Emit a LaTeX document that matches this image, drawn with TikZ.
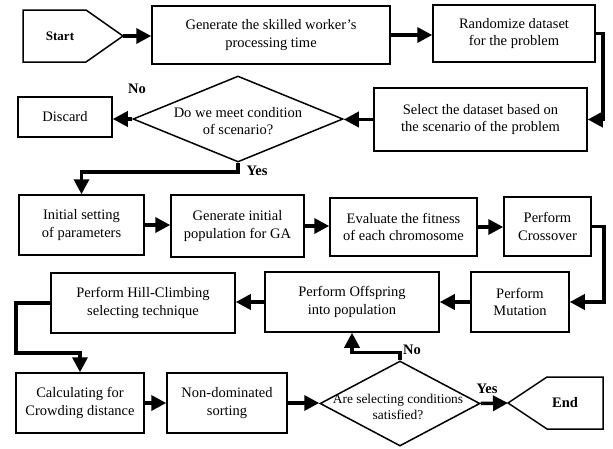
\documentclass[tikz,border=0pt]{standalone}
\usepackage{fontspec}
\setmainfont{Liberation Serif}
\usetikzlibrary{arrows.meta,shapes.geometric}
\begin{document}
\begin{tikzpicture}[x=1pt,y=-1pt,
  box/.style={draw, line width=1.5pt, inner sep=0pt, align=center, font=\fontsize{14.5}{17.5}\selectfont},
  dia/.style={draw, diamond, line width=1.5pt, inner sep=0pt},
  txt/.style={align=center, inner sep=0pt, font=\fontsize{14.5}{17.5}\selectfont},
  arr/.style={line width=3.5pt, -{Triangle[length=15pt,width=15pt]}},
  lbl/.style={inner sep=0pt, font=\fontsize{14.5}{17}\selectfont\bfseries}]
\useasboundingbox (0,0) rectangle (613,448);
% Start
\draw[line width=1.5pt] (23,10) -- (86,10) -- (123,36) -- (86,62) -- (23,62) -- cycle;
\node[lbl, font=\fontsize{13}{15}\selectfont\bfseries] (start) at (60,36) {Start};
\coordinate (starttip) at (123,36);
% Row 1
\node[box, minimum width=238pt, minimum height=58pt] (gen) at (271,35) {Generate the skilled worker's\\processing time};
\node[box, minimum width=162pt, minimum height=57pt] (rand) at (514,33.5) {Randomize dataset\\for the problem};
% Row 2
\node[box, minimum width=213pt, minimum height=63pt] (sel) at (480.5,119.5) {Select the dataset based on\\the scenario of the problem};
\node[dia, minimum width=210pt, minimum height=86pt] (dia1) at (238,119) {};
\node[txt] (dia1t) at (238,121) {Do we meet condition\\of scenario?};
\node[box, minimum width=94pt, minimum height=40pt] (disc) at (65,117) {Discard};
% Row 3
\node[box, minimum width=125pt, minimum height=60pt] (init) at (81.5,225) {Initial setting\\of parameters};
\node[box, minimum width=133pt, minimum height=62pt] (geni) at (237.5,226) {Generate initial\\population for GA};
\node[box, minimum width=147pt, minimum height=58pt] (eval) at (403.5,227) {Evaluate the fitness\\of each chromosome};
\node[box, minimum width=87pt, minimum height=59pt] (cross) at (547.5,226.5) {Perform\\Crossover};
% Row 4
\node[box, minimum width=98pt, minimum height=60pt] (mut) at (520,302) {Perform\\Mutation};
\node[box, minimum width=174pt, minimum height=60pt] (off) at (352,302) {Perform Offspring\\into population};
\node[box, minimum width=184pt, minimum height=60pt] (hill) at (143,303) {Perform Hill-Climbing\\selecting technique};
% Row 5
\node[box, minimum width=128pt, minimum height=60pt] (calc) at (80,403) {Calculating for\\Crowding distance};
\node[box, minimum width=120pt, minimum height=60pt] (nond) at (227,403) {Non-dominated\\sorting};
\node[dia, minimum width=160pt, minimum height=85pt] (dia2) at (400,403.5) {};
\node[txt, font=\fontsize{13.4}{15.5}\selectfont] (dia2t) at (398,407) {Are selecting conditions\\satisfied?};
% End
\draw[line width=1.5pt] (508,403) -- (547,377) -- (603,377) -- (603,429) -- (547,429) -- cycle;
\node[lbl] (end) at (565,403) {End};
\coordinate (endtip) at (508,403);
% connectors
\draw[arr] (starttip) -- (starttip -| gen.west);
\draw[arr] (gen.east) -- (gen.east -| rand.west);
\draw[arr] (rand.east) -- ++(7,0) |- (sel.east);
\draw[arr] (sel.west) -- (sel.west -| dia1.east);
\draw[arr] (dia1.west) -- (dia1.west -| disc.east);
\draw[arr] (dia1.south) -- ++(0,9) -| (init.north);
\draw[arr] (init.east) -- (init.east -| geni.west);
\draw[arr] (geni.east) -- (geni.east -| eval.west);
\draw[arr] (eval.east) -- (eval.east -| cross.west);
\draw[arr] (cross.east) -- ++(12,0) |- (mut.east);
\draw[arr] (mut.west) -- (mut.west -| off.east);
\draw[arr] (off.west) -- (off.west -| hill.east);
\coordinate (hc) at (16,353);
\draw[arr] (hill.west) -| (hc) -| (calc.north);
\draw[arr] (calc.east) -- (calc.east -| nond.west);
\draw[arr] (nond.east) -- (nond.east -| dia2.west);
\draw[arr] (dia2.east) -- (endtip);
\draw[arr] (dia2.north) -- ++(0,-8) -| (off.south);
% labels
\node[lbl] (no1) at (137,89) {No};
\node[lbl] (yes1) at (257,171) {Yes};
\node[lbl] (yes2) at (487,389) {Yes};
\node[lbl] (no2) at (412,350) {No};
\end{tikzpicture}
\end{document}
